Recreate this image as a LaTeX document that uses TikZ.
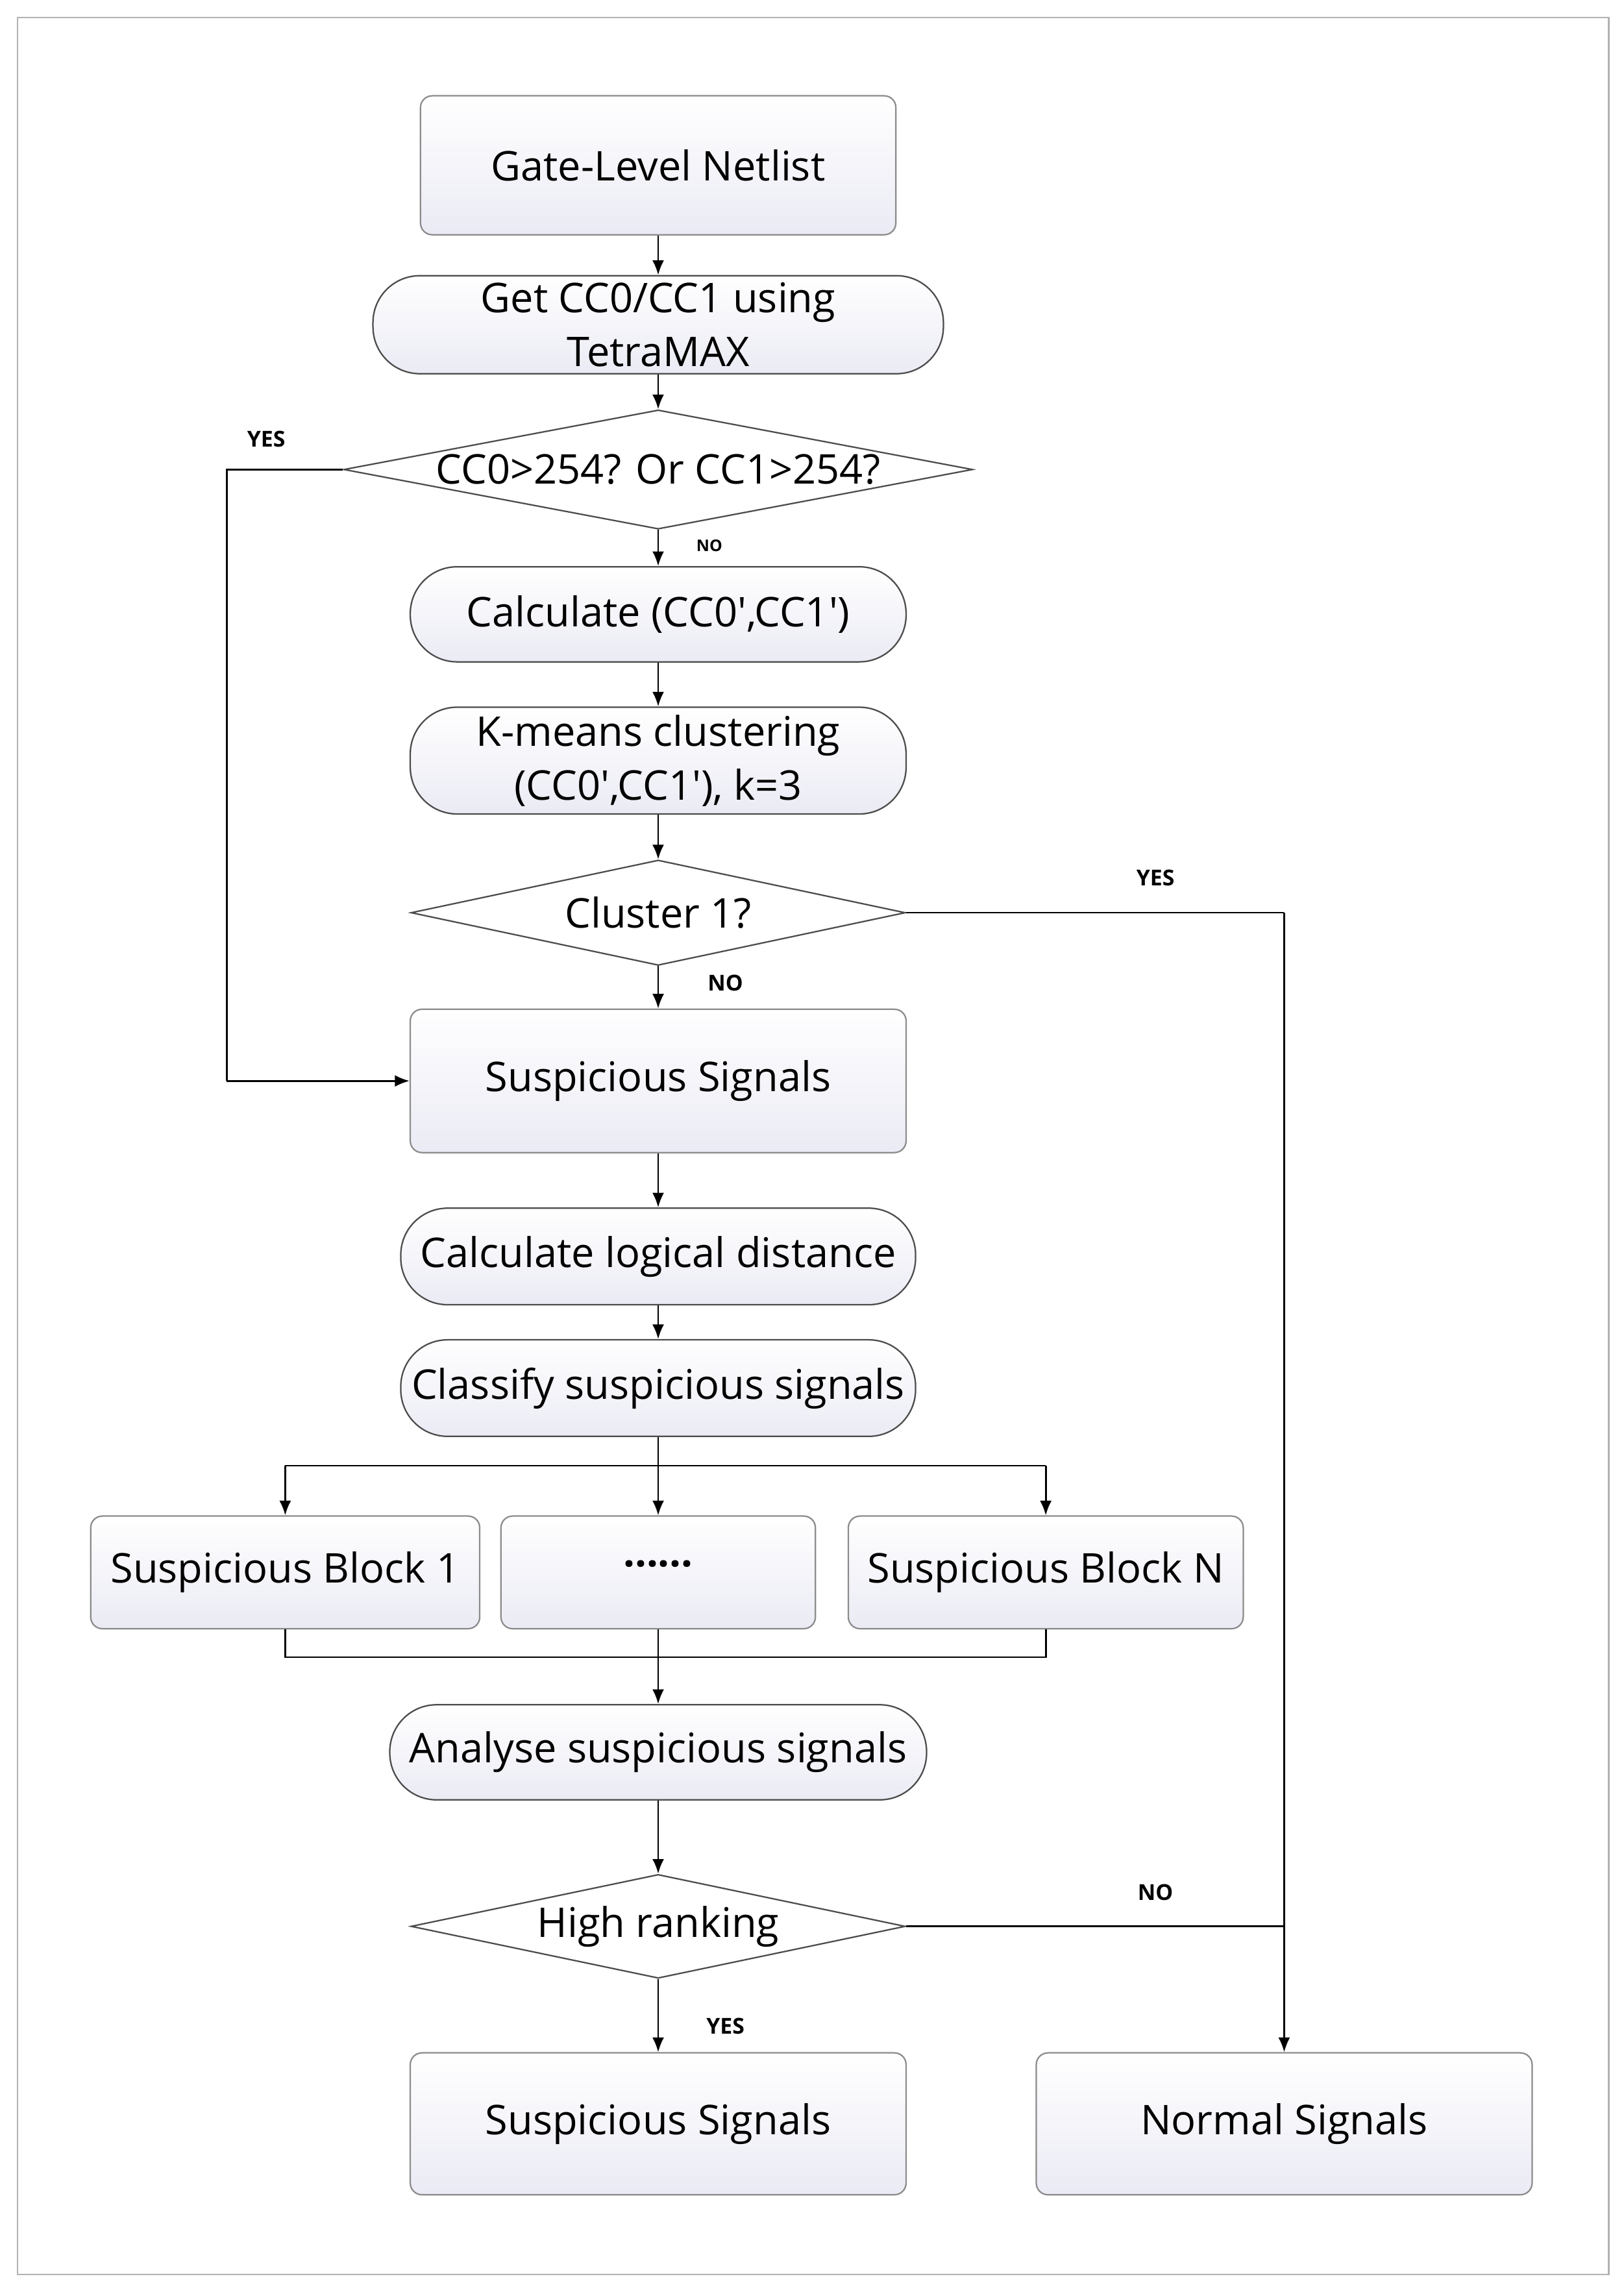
\documentclass[tikz,border=0pt]{standalone}
\usepackage{fontspec}
\setmainfont{Open Sans}[Ligatures=NoCommon]
\usetikzlibrary{shapes.geometric,arrows.meta}
\newcommand{\q}{\textquotesingle}
\begin{document}
\begin{tikzpicture}[x=0.5pt,y=-0.5pt,
 box/.style={draw=black!45,line width=0.5pt,rounded corners=4pt,top color=white,bottom color={rgb,1:red,0.92;green,0.92;blue,0.96},align=center,font=\fontsize{14}{18.5}\selectfont,inner sep=0pt},
 term/.style={box,rounded corners=16pt,draw=black!70},
 dec/.style={diamond,draw=black!70,line width=0.5pt,fill=white,aspect=5,inner sep=0pt,font=\fontsize{14}{17}\selectfont},
 arr/.style={-{Latex[length=5pt,width=4pt]},line width=0.6pt},
 ln/.style={line width=0.6pt},
 lab/.style={font=\bfseries\fontsize{7.5}{9}\selectfont}]
\useasboundingbox (0,0) rectangle (1110,1567);
\draw[black!30,line width=0.6pt] (12,12) rectangle (1100,1555);
\node[box,minimum width=162.5pt,minimum height=47.5pt] (n1) at (450,113) {Gate-Level Netlist};
\node[term,minimum width=195pt,minimum height=33.5pt] (n2) at (450,222) {Get CC0/CC1 using\\TetraMAX};
\node[dec,minimum width=215pt,minimum height=38.5pt] (d1) at (450,321) {CC0>254? Or CC1>254?};
\node[term,minimum width=169.5pt,minimum height=32.5pt] (n3) at (450,420) {Calculate (CC0\q,CC1\q)};
\node[term,minimum width=169.5pt,minimum height=36.5pt] (n4) at (450,520) {K-means clustering\\(CC0\q,CC1\q), k=3};
\node[dec,minimum width=169pt,minimum height=36pt] (d2) at (450,624) {Cluster 1?};
\node[box,minimum width=169.5pt,minimum height=49pt] (s1) at (450,739) {Suspicious Signals};
\node[term,minimum width=176pt,minimum height=33pt] (n5) at (450,859) {Calculate logical distance};
\node[term,minimum width=176pt,minimum height=33pt] (n6) at (450,949) {Classify suspicious signals};
\node[box,minimum width=133pt,minimum height=38.5pt] (b1) at (195,1075) {Suspicious Block 1};
\node[box,minimum width=107.5pt,minimum height=38.5pt] (b2) at (450,1075) {\raisebox{0.3ex}{\textbf{\textperiodcentered\textperiodcentered\textperiodcentered\textperiodcentered\textperiodcentered\textperiodcentered}}};
\node[box,minimum width=135pt,minimum height=38.5pt] (b3) at (715,1075) {Suspicious Block N};
\node[term,minimum width=183.5pt,minimum height=32.5pt] (n7) at (450,1198) {Analyse suspicious signals};
\node[dec,minimum width=169pt,minimum height=35.5pt] (d3) at (450,1317) {High ranking};
\node[box,minimum width=169.5pt,minimum height=48.5pt] (s2) at (450,1452) {Suspicious Signals};
\node[box,minimum width=169.5pt,minimum height=48.5pt] (s3) at (878,1452) {Normal Signals};
\coordinate (c1) at (155,321); \coordinate (c2) at (155,739);
\coordinate (c3) at (878,624); \coordinate (c4) at (878,1317);
\coordinate (sp) at (450,1002); \coordinate (mg) at (450,1133);
\draw[arr] (n1) -- (n2);
\draw[arr] (n2) -- (d1);
\draw[arr] (d1) -- (n3);
\draw[arr] (n3) -- (n4);
\draw[arr] (n4) -- (d2);
\draw[arr] (d2) -- (s1);
\draw[arr] (s1) -- (n5);
\draw[arr] (n5) -- (n6);
\draw[ln] (d1.west) -- (c1) -- (c2);
\draw[arr] (c2) -- (s1.west);
\draw[ln] (d2.east) -- (c3);
\draw[arr] (c3) -- (s3.north);
\draw[ln] (d3.east) -- (c4);
\draw[ln] (n6.south) -- (sp);
\draw[ln] (b1.north|-sp) -- (b3.north|-sp);
\draw[arr] (b1.north|-sp) -- (b1.north);
\draw[arr] (sp) -- (b2.north);
\draw[arr] (b3.north|-sp) -- (b3.north);
\draw[ln] (b1.south) -- (b1.south|-mg) -- (b3.south|-mg) -- (b3.south);
\draw[arr] (b2.south) -- (n7.north);
\draw[arr] (n7) -- (d3);
\draw[arr] (d3) -- (s2);
\node[lab] (l1) at (182,300) {YES};
\node[lab,font=\bfseries\fontsize{5.5}{7}\selectfont] (l2) at (485,373) {NO};
\node[lab] (l3) at (790,600) {YES};
\node[lab] (l4) at (496,672) {NO};
\node[lab] (l5) at (790,1294) {NO};
\node[lab] (l6) at (496,1385) {YES};
\end{tikzpicture}
\end{document}
